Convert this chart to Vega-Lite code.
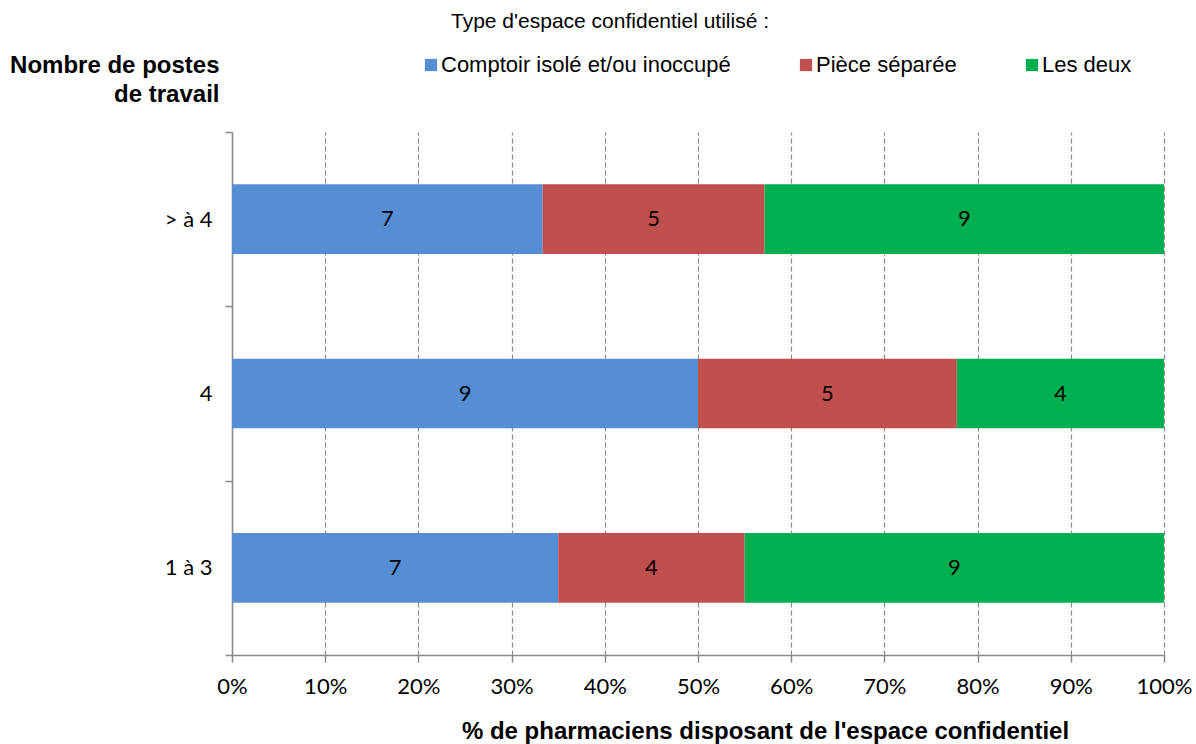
{
  "$schema": "https://vega.github.io/schema/vega-lite/v6.json",
  "autosize": "none",
  "width": 932,
  "height": 523,
  "padding": {"left": 232, "top": 132, "right": 32, "bottom": 89},
  "background": "#ffffff",
  "title": {
    "text": "Type d'espace confidentiel utilisé :",
    "anchor": "start",
    "frame": "group",
    "dx": 219,
    "offset": 21,
    "font": "Liberation Sans",
    "fontSize": 21,
    "fontWeight": "normal",
    "color": "#000000"
  },
  "data": {
    "values": [
      {"poste": "> à 4", "type": "Comptoir isolé et/ou inoccupé", "ord": 1, "n": 7},
      {"poste": "> à 4", "type": "Pièce séparée", "ord": 2, "n": 5},
      {"poste": "> à 4", "type": "Les deux", "ord": 3, "n": 9},
      {"poste": "4", "type": "Comptoir isolé et/ou inoccupé", "ord": 1, "n": 9},
      {"poste": "4", "type": "Pièce séparée", "ord": 2, "n": 5},
      {"poste": "4", "type": "Les deux", "ord": 3, "n": 4},
      {"poste": "1 à 3", "type": "Comptoir isolé et/ou inoccupé", "ord": 1, "n": 7},
      {"poste": "1 à 3", "type": "Pièce séparée", "ord": 2, "n": 4},
      {"poste": "1 à 3", "type": "Les deux", "ord": 3, "n": 9}
    ]
  },
  "transform": [
    {"stack": "n", "groupby": ["poste"], "sort": [{"field": "ord", "order": "ascending"}], "offset": "normalize", "as": ["v0", "v1"]},
    {"calculate": "(datum.v0 + datum.v1) / 2", "as": "mid"}
  ],
  "encoding": {
    "y": {
      "field": "poste",
      "type": "nominal",
      "sort": ["> à 4", "4", "1 à 3"],
      "scale": {"paddingInner": 0, "paddingOuter": 0},
      "axis": {
        "title": ["Nombre de postes", "de travail"],
        "titleAngle": 0,
        "titleAlign": "right",
        "titleBaseline": "alphabetic",
        "titleX": -13,
        "titleY": -60,
        "titleLineHeight": 29,
        "titleFont": "Liberation Sans",
        "titleFontSize": 24,
        "titleFontWeight": "bold",
        "titleColor": "#000000",
        "tickBand": "extent",
        "tickSize": 7,
        "tickColor": "#898989",
        "tickWidth": 1.5,
        "domainColor": "#898989",
        "domainWidth": 1.5,
        "labelFont": "Lato",
        "labelFontSize": 22,
        "labelColor": "#000000",
        "labelPadding": 13,
        "grid": false
      }
    }
  },
  "layer": [
    {
      "mark": {"type": "bar", "height": {"band": 0.4}},
      "encoding": {
        "x": {
          "field": "v0",
          "type": "quantitative",
          "scale": {"domain": [0, 1], "nice": false},
          "axis": {
            "format": ".0%",
            "values": [0, 0.1, 0.2, 0.3, 0.4, 0.5, 0.6, 0.7, 0.8, 0.9, 1],
            "labelFlush": false,
            "labelOverlap": false,
            "title": "% de pharmaciens disposant de l'espace confidentiel",
            "titleFont": "Liberation Sans",
            "titleFontSize": 24,
            "titleFontWeight": "bold",
            "titleColor": "#000000",
            "titleX": 533,
            "titleY": 83,
            "titleBaseline": "alphabetic",
            "titleAlign": "center",
            "labelFont": "Lato",
            "labelFontSize": 22,
            "labelColor": "#000000",
            "labelPadding": 14,
            "tickSize": 7,
            "tickColor": "#898989",
            "tickWidth": 1.5,
            "domainColor": "#898989",
            "domainWidth": 1.5,
            "grid": true,
            "gridColor": "#8a8a8a",
            "gridDash": [5, 3],
            "gridWidth": 1.2
          }
        },
        "x2": {"field": "v1"},
        "color": {
          "field": "type",
          "type": "nominal",
          "sort": ["Comptoir isolé et/ou inoccupé", "Pièce séparée", "Les deux"],
          "scale": {
            "domain": ["Comptoir isolé et/ou inoccupé", "Pièce séparée", "Les deux"],
            "range": ["#558ED5", "#C0504D", "#00B050"]
          },
          "legend": {
            "title": null,
            "orient": "none",
            "direction": "horizontal",
            "legendX": 188,
            "legendY": -78,
            "symbolType": "square",
            "symbolSize": 150,
            "symbolStrokeWidth": 0,
            "symbolOpacity": 1,
            "labelFont": "Liberation Sans",
            "labelFontSize": 22,
            "labelColor": "#000000",
            "labelOffset": -1,
            "columnPadding": 64,
            "labelLimit": 400
          }
        }
      }
    },
    {
      "mark": {"type": "text", "font": "Lato", "fontSize": 22, "color": "#000000", "align": "center", "baseline": "middle"},
      "encoding": {
        "x": {"field": "mid", "type": "quantitative"},
        "text": {"field": "n", "type": "quantitative"}
      }
    }
  ],
  "config": {
    "view": {"stroke": null}
  }
}
